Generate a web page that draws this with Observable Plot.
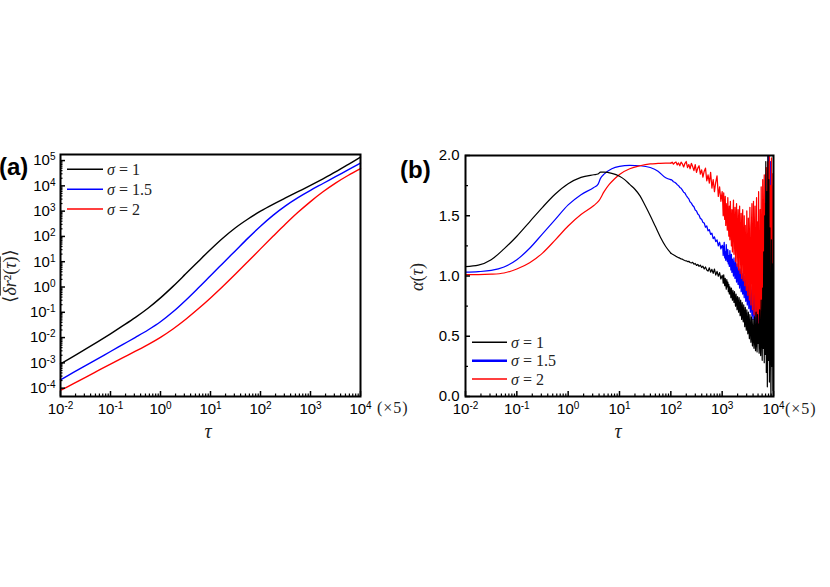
<!DOCTYPE html>
<html><head><meta charset="utf-8">
<script src="https://cdn.jsdelivr.net/npm/d3@7"></script>
<script src="https://cdn.jsdelivr.net/npm/@observablehq/plot@0.6"></script>
<style>
body{margin:0;background:#fff;}
#wrap{position:relative;width:830px;height:587px;background:#fff;overflow:hidden;}
#wrap > svg{position:absolute;top:0;overflow:visible;}
</style></head><body><div id="wrap"></div>
<script>
// ---------- Panel (a): time-averaged MSD, log10 values ----------
const tauExpA = [-2,-1.75,-1.5,-1.25,-1,-0.75,-0.5,-0.25,0,0.25,0.5,0.75,1,1.25,1.5,1.75,2,2.25,2.5,2.75,3,3.25,3.5,3.75,4];
const msdExpBlack = [-3.04,-2.75,-2.46,-2.16,-1.85,-1.53,-1.20,-0.84,-0.43,0.025,0.51,1.00,1.485,1.94,2.345,2.69,3.00,3.27,3.52,3.77,4.02,4.28,4.55,4.84,5.14];
const msdExpBlue  = [-3.67,-3.39,-3.11,-2.83,-2.55,-2.27,-1.99,-1.70,-1.375,-0.98,-0.53,-0.048,0.448,0.943,1.438,1.933,2.403,2.833,3.208,3.533,3.823,4.093,4.363,4.633,4.903];
const msdExpRed   = [-4.09,-3.83,-3.57,-3.31,-3.05,-2.795,-2.54,-2.278,-1.99,-1.66,-1.285,-0.873,-0.433,0.03,0.513,1.008,1.508,2.003,2.49,2.953,3.378,3.765,4.11,4.41,4.68];

// ---------- Panel (b): alpha(tau), smooth short-time part ----------
const tauExpBlackS = [-2,-1.75,-1.5,-1.25,-1,-0.75,-0.5,-0.25,0,0.25,0.5,0.58,0.63,0.7,0.85,1,1.1,1.2,1.3,1.4,1.5,1.6,1.7,1.8,1.9];
const alphaBlackS  = [1.078,1.090,1.135,1.225,1.33,1.45,1.57,1.68,1.765,1.818,1.840,1.846,1.862,1.862,1.852,1.828,1.80,1.76,1.72,1.665,1.585,1.50,1.41,1.32,1.245];
const tauExpBlueS  = [-2,-1.75,-1.5,-1.25,-1,-0.75,-0.5,-0.25,0,0.25,0.5,0.58,0.63,0.7,0.85,1,1.2,1.4,1.6,1.75,1.9];
const alphaBlueS   = [1.032,1.036,1.046,1.075,1.135,1.23,1.35,1.47,1.59,1.675,1.735,1.76,1.81,1.845,1.89,1.91,1.918,1.915,1.90,1.87,1.815];
const tauExpRedS   = [-2,-1.75,-1.5,-1.25,-1,-0.75,-0.5,-0.25,0,0.25,0.5,0.6,0.7,0.8,0.9,1,1.2,1.4,1.6,1.75,1.9];
const alphaRedS    = [1.012,1.012,1.015,1.025,1.058,1.11,1.19,1.30,1.415,1.51,1.585,1.625,1.70,1.76,1.805,1.843,1.89,1.915,1.93,1.934,1.937];

// ---------- Panel (b): noisy long-time part (shared log10 tau samples) ----------
const tauExpNoise = [
 2.000,2.025,2.050,2.075,2.100,2.125,2.150,2.175,2.200,2.225,2.250,2.275,2.300,2.325,2.350,2.375,2.400,2.425,2.450,2.475,
 2.500,2.525,2.550,2.575,2.600,2.625,2.650,2.675,2.700,2.725,2.750,2.775,2.800,2.825,2.850,2.875,2.900,2.925,2.950,2.975,3.000,
 3.01,3.02,3.03,3.04,3.05,3.06,3.07,3.08,3.09,3.10,
 3.11,3.12,3.13,3.14,3.15,3.16,3.17,3.18,3.19,3.20,
 3.21,3.22,3.23,3.24,3.25,3.26,3.27,3.28,3.29,3.30,
 3.31,3.32,3.33,3.34,3.35,3.36,3.37,3.38,3.39,3.40,
 3.41,3.42,3.43,3.44,3.45,3.46,3.47,3.48,3.49,3.50,
 3.51,3.52,3.53,3.54,3.55,3.56,3.57,3.58,3.59,3.60,
 3.61,3.62,3.63,3.64,3.65,3.66,3.67,3.68,3.69,3.70,
 3.71,3.72,3.73,3.74,3.75,3.76,3.77,3.78,3.79,3.80,
 3.81,3.82,3.83,3.84,3.85,3.86,3.87,3.88,3.89,3.90,
 3.91,3.92,3.93,3.94,3.95,3.96,3.97,3.98,3.99,4.00];
const alphaBlackN = [
 1.190,1.182,1.176,1.170,1.163,1.158,1.152,1.148,1.142,1.140,1.133,1.128,1.126,1.120,1.122,1.112,1.108,1.114,1.098,1.104,
 1.088,1.096,1.080,1.090,1.070,1.082,1.058,1.075,1.050,1.040,1.068,1.032,1.055,1.022,1.058,1.008,1.038,0.998,1.028,0.975,1.005,
 0.99,0.94,1.01,0.96,0.92,0.98,0.93,0.89,0.97,0.91,
 0.95,0.87,0.93,0.85,0.91,0.88,0.82,0.90,0.84,0.80,
 0.88,0.83,0.78,0.87,0.80,0.75,0.85,0.79,0.72,0.83,
 0.76,0.70,0.82,0.74,0.67,0.80,0.71,0.64,0.78,0.68,
 0.62,0.76,0.66,0.58,0.74,0.63,0.55,0.72,0.60,0.52,
 0.70,0.57,0.48,0.68,0.55,0.45,0.66,0.52,0.42,0.64,
 0.50,0.40,0.66,0.48,0.38,0.70,0.46,0.37,0.68,0.44,
 0.60,0.36,0.72,0.45,0.34,0.80,0.50,0.30,0.90,0.40,
 1.20,0.28,1.50,0.35,1.95,0.20,1.70,0.08,2.00,0.30,
 1.80,0.12,1.40,0.50,0.00,1.30,0.25,1.10,0.05,0.60];
const alphaBlueN = [
 1.800,1.795,1.782,1.778,1.770,1.758,1.750,1.735,1.728,1.712,1.695,1.688,1.668,1.652,1.640,1.615,1.605,1.585,1.575,1.548,
 1.540,1.515,1.505,1.478,1.470,1.445,1.440,1.405,1.415,1.375,1.385,1.345,1.355,1.310,1.325,1.285,1.300,1.250,1.280,1.225,1.255,
 1.25,1.17,1.22,1.28,1.15,1.20,1.13,1.26,1.16,1.12,
 1.22,1.10,1.17,1.08,1.21,1.12,1.05,1.18,1.03,1.14,
 1.08,1.00,1.15,1.04,0.98,1.12,1.02,0.95,1.10,0.99,
 0.93,1.08,0.96,0.90,1.06,1.00,0.87,1.04,0.92,0.85,
 1.02,0.88,0.82,1.00,0.92,0.79,0.97,0.84,0.76,0.95,
 0.86,0.73,0.93,0.80,0.70,0.91,0.76,0.67,0.89,0.64,
 0.80,0.86,0.62,0.74,0.88,0.60,0.83,0.68,0.56,0.82,
 0.60,0.54,0.80,0.66,0.51,0.78,0.56,0.48,0.84,0.62,
 0.50,1.10,0.55,1.45,0.62,1.85,0.58,1.30,0.65,2.00,
 0.72,1.60,0.50,1.95,0.44,1.20,1.75,0.48,1.50,0.80];
const alphaRedN = [
 1.936,1.945,1.928,1.940,1.946,1.922,1.938,1.915,1.945,1.930,1.905,1.935,1.950,1.900,1.925,1.890,1.935,1.908,1.875,1.925,
 1.860,1.895,1.915,1.845,1.880,1.820,1.870,1.895,1.790,1.840,1.770,1.860,1.730,1.800,1.700,1.780,1.830,1.660,1.740,1.620,1.700,
 1.62,1.50,1.69,1.55,1.47,1.66,1.42,1.60,1.52,1.38,
 1.65,1.45,1.33,1.58,1.30,1.62,1.40,1.25,1.55,1.20,
 1.48,1.63,1.18,1.35,1.57,1.12,1.44,1.60,1.08,1.30,
 1.55,1.05,1.40,1.58,1.02,1.25,1.52,0.98,1.36,1.55,
 0.96,1.18,1.50,0.92,1.42,1.10,0.88,1.54,1.00,0.84,
 1.48,1.20,0.80,1.57,0.95,0.76,1.40,1.60,0.72,1.10,
 1.62,0.68,1.30,1.58,0.66,0.90,1.65,0.62,1.45,0.60,
 1.70,0.85,0.57,1.55,0.54,1.74,1.00,0.50,1.80,0.47,
 1.35,1.84,0.45,1.60,0.42,1.90,0.80,0.40,1.95,0.38,
 1.50,2.00,0.36,1.75,0.37,1.98,0.60,0.36,1.85,1.20];

// ---------- ticks and legend labels ----------
const majorLogTicks = [1e-2,1e-1,1e0,1e1,1e2,1e3,1e4];
const majorMsdTicks = [1e-4,1e-3,1e-2,1e-1,1e0,1e1,1e2,1e3,1e4,1e5];
const alphaTicks = [0,0.5,1,1.5,2];
const alphaMinorTicks = [0.25,0.75,1.25,1.75];
const legendLabels = ["σ\u2005=\u20051", "σ\u2005=\u20051.5", "σ\u2005=\u20052"];
const colors = ["#000000", "#0000ff", "#ff0000"];

function minorLog(majors){
  const out = [], top = majors[majors.length - 1];
  for (const m of majors) for (let k = 2; k <= 9; k++) if (m * k <= top) out.push(m * k);
  return out;
}
const minorX = minorLog(majorLogTicks);
const minorMsd = minorLog(majorMsdTicks);

const toXY = (te, ve, log) => te.map((t, i) => ({tau: 10 ** t, v: log ? 10 ** ve[i] : ve[i]}));
const aBlack = toXY(tauExpA, msdExpBlack, true);
const aBlue  = toXY(tauExpA, msdExpBlue, true);
const aRed   = toXY(tauExpA, msdExpRed, true);
const bBlackS = toXY(tauExpBlackS.concat([tauExpNoise[0]]), alphaBlackS.concat([alphaBlackN[0]]), false);
const bBlueS  = toXY(tauExpBlueS.concat([tauExpNoise[0]]), alphaBlueS.concat([alphaBlueN[0]]), false);
const bRedS   = toXY(tauExpRedS.concat([tauExpNoise[0]]), alphaRedS.concat([alphaRedN[0]]), false);
const bBlackN = toXY(tauExpNoise, alphaBlackN, false);
const bBlueN  = toXY(tauExpNoise, alphaBlueN, false);
const bRedN   = toXY(tauExpNoise, alphaRedN, false);

const fmtPow = d => "10^" + Math.round(Math.log10(d));
const blank = () => "";
const baseStyle = {fontFamily: "'Liberation Sans', Arial, sans-serif", fontSize: "15px", color: "#000", background: "transparent", overflow: "visible"};

const chartA = Plot.plot({
  width: 415, height: 587,
  marginLeft: 60, marginRight: 55, marginTop: 154, marginBottom: 191,
  style: baseStyle,
  x: {type: "log", domain: [1e-2, 1e4]},
  y: {type: "log", domain: [10 ** -4.33, 10 ** 5.24]},
  marks: [
    Plot.line(aBlack, {x: "tau", y: "v", stroke: colors[0], strokeWidth: 1.4, curve: "catmull-rom"}),
    Plot.line(aBlue,  {x: "tau", y: "v", stroke: colors[1], strokeWidth: 1.4, curve: "catmull-rom"}),
    Plot.line(aRed,   {x: "tau", y: "v", stroke: colors[2], strokeWidth: 1.4, curve: "catmull-rom"}),
    Plot.axisX({ticks: majorLogTicks, tickSize: -5, strokeWidth: 1.5, tickFormat: blank, label: null}),
    Plot.axisX({ticks: minorX, tickSize: -2.5, strokeWidth: 1.2, tickFormat: blank, label: null}),
    Plot.axisX({ticks: majorLogTicks, tickSize: 0, tickPadding: 7, tickFormat: fmtPow, label: null}),
    Plot.axisY({ticks: majorMsdTicks, tickSize: -5, strokeWidth: 1.5, tickFormat: blank, label: null}),
    Plot.axisY({ticks: minorMsd, tickSize: -2.5, strokeWidth: 1.2, tickFormat: blank, label: null}),
    Plot.axisY({ticks: majorMsdTicks, tickSize: 0, tickPadding: 5, tickFormat: fmtPow, label: null}),
    Plot.frame({stroke: "#000", strokeWidth: 2})
  ]
});

const lineB = (data, c, curve, w) => Plot.line(data, {x: "tau", y: "v", stroke: c, strokeWidth: w, curve, clip: true});
const chartB = Plot.plot({
  width: 440, height: 587,
  marginLeft: 75, marginRight: 57, marginTop: 155, marginBottom: 191,
  style: baseStyle,
  x: {type: "log", domain: [1e-2, 1e4]},
  y: {domain: [0, 2]},
  marks: [
    lineB(bBlueS, colors[1], "monotone-x", 1.2),
    lineB(bRedS, colors[2], "monotone-x", 1.2),
    lineB(bBlackS, colors[0], "monotone-x", 1.2),
    lineB(bBlueN, colors[1], "linear", 1.25),
    lineB(bRedN, colors[2], "linear", 1.25),
    lineB(bBlackN, colors[0], "linear", 1.2),
    Plot.axisX({ticks: majorLogTicks, tickSize: -5, strokeWidth: 1.5, tickFormat: blank, label: null}),
    Plot.axisX({ticks: minorX, tickSize: -2.5, strokeWidth: 1.2, tickFormat: blank, label: null}),
    Plot.axisX({ticks: majorLogTicks, tickSize: 0, tickPadding: 7, tickFormat: fmtPow, label: null}),
    Plot.axisY({ticks: alphaTicks, tickSize: -5, strokeWidth: 1.5, tickFormat: blank, label: null}),
    Plot.axisY({ticks: alphaMinorTicks, tickSize: -3, strokeWidth: 1.2, tickFormat: blank, label: null}),
    Plot.axisY({ticks: alphaTicks, tickSize: 0, tickPadding: 6, tickFormat: d3.format(".1f"), label: null}),
    Plot.frame({stroke: "#000", strokeWidth: 2})
  ]
});

const wrap = document.getElementById("wrap");
chartA.style.left = "0px";
chartB.style.left = "390px";
wrap.appendChild(chartA);
wrap.appendChild(chartB);

function superscriptify(svg){
  d3.select(svg).selectAll("text").each(function(){
    const m = /^10\^(-?\d+)$/.exec(this.textContent);
    if (!m) return;
    const s = d3.select(this);
    s.text(null);
    s.append("tspan").text("10");
    s.append("tspan").attr("dy", "-0.5em").attr("font-size", "10px").text(m[1]);
  });
}
superscriptify(chartA);
superscriptify(chartB);

const SERIF = "'Liberation Serif', 'DejaVu Serif', serif";
function addLegend(svg, x1, x2, ys, tx, wide){
  const g = d3.select(svg).append("g");
  ys.forEach((y, i) => {
    g.append("line").attr("x1", x1).attr("x2", x2).attr("y1", y).attr("y2", y)
      .attr("stroke", colors[i]).attr("stroke-width", wide && i === 1 ? 2.6 : 1.6);
    const t = g.append("text").attr("x", tx).attr("y", y + 5.5).attr("text-anchor", "start")
      .attr("font-family", SERIF).attr("font-size", 16).attr("fill", "#222");
    const parts = legendLabels[i].split("σ");
    t.append("tspan").attr("font-style", "italic").text("σ");
    t.append("tspan").text(parts[1]);
  });
}
function addText(svg, x, y, str, opts = {}){
  const t = d3.select(svg).append("text").attr("x", x).attr("y", y).text(str)
    .attr("font-family", opts.family || SERIF).attr("font-size", opts.size || 16)
    .attr("text-anchor", opts.anchor || "start").attr("fill", opts.fill || "#000");
  if (opts.italic) t.attr("font-style", "italic");
  if (opts.bold) t.attr("font-weight", "bold");
  if (opts.spacing) t.attr("letter-spacing", opts.spacing);
  return t;
}

// Panel (a) annotations
addText(chartA, -1, 175, "(a)", {family: "'Liberation Sans', Arial, sans-serif", size: 24, bold: true});
addLegend(chartA, 67, 103, [169.3, 189.3, 209], 107, false);
addText(chartA, 208, 438, "τ", {italic: true, size: 20, anchor: "middle", fill: "#222"});
addText(chartA, 377, 413, "(×5)", {size: 16, spacing: 1, fill: "#222"});
{
  const t = d3.select(chartA).append("text")
    .attr("transform", "translate(16,276) rotate(-90)")
    .attr("text-anchor", "middle").attr("font-family", SERIF).attr("font-size", 18).attr("fill", "#222");
  t.append("tspan").text("⟨");
  const o = t.append("tspan").style("text-decoration", "overline");
  o.append("tspan").attr("font-style", "italic").text("δr");
  o.append("tspan").text("²(");
  o.append("tspan").attr("font-style", "italic").text("τ");
  o.append("tspan").text(")");
  t.append("tspan").text("⟩");
}

// Panel (b) annotations (local x = global x − 390)
addText(chartB, 10, 178, "(b)", {family: "'Liberation Sans', Arial, sans-serif", size: 24, bold: true});
addLegend(chartB, 82, 117, [342.3, 360.7, 379], 121, true);
addText(chartB, 228, 438, "τ", {italic: true, size: 20, anchor: "middle", fill: "#222"});
addText(chartB, 395, 414, "(×5)", {size: 16, spacing: 1, fill: "#222"});
{
  const t = d3.select(chartB).append("text")
    .attr("transform", "translate(33,277) rotate(-90)")
    .attr("text-anchor", "middle").attr("font-family", SERIF).attr("font-size", 18).attr("fill", "#222");
  t.append("tspan").attr("font-style", "italic").text("α");
  t.append("tspan").text("(");
  t.append("tspan").attr("font-style", "italic").text("τ");
  t.append("tspan").text(")");
}
</script></body></html>
